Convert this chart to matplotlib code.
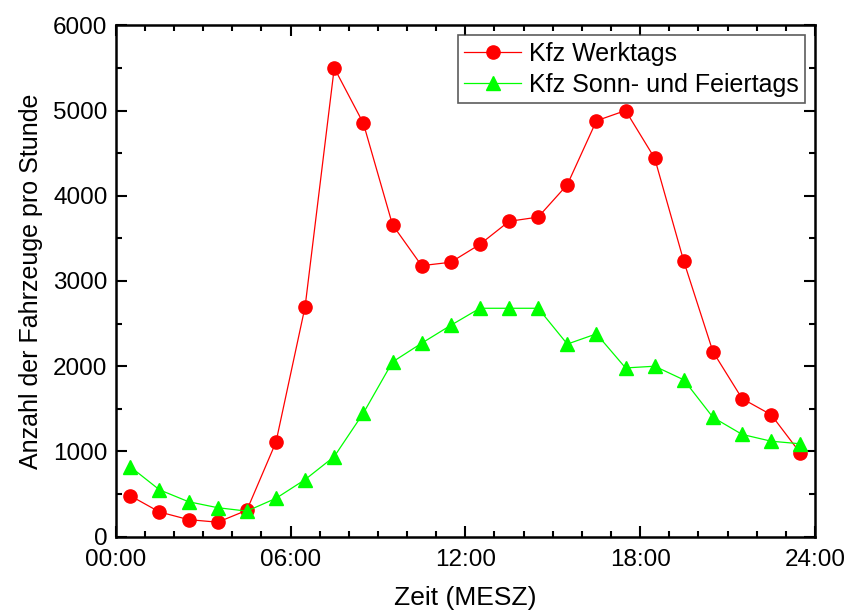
import matplotlib
matplotlib.use("Agg")
import matplotlib.pyplot as plt
from matplotlib.ticker import MultipleLocator, FuncFormatter

plt.rcParams['font.family'] = ['Liberation Sans', 'DejaVu Sans']

hours = [h + 0.5 for h in range(24)]
werktags = [480, 290, 200, 170, 310, 1110, 2700, 5500, 4850, 3660, 3180, 3220,
            3430, 3700, 3750, 4130, 4880, 5000, 4440, 3230, 2170, 1620, 1430, 980]
sonntags = [820, 550, 410, 340, 300, 450, 670, 940, 1450, 2050, 2270, 2480,
            2680, 2680, 2680, 2260, 2380, 1980, 2000, 1840, 1400, 1200, 1120, 1090]

fig = plt.figure(figsize=(8.48, 6.13), dpi=100)
ax = fig.add_axes([0.1365, 0.1245, 0.8245, 0.8342])

ax.plot(hours, werktags, color='#ff0000', lw=0.9, marker='o', ms=9.5,
        markeredgecolor='#ff0000', label='Kfz Werktags')
ax.plot(hours, sonntags, color='#00ff00', lw=0.9, marker='^', ms=10,
        markeredgecolor='#00ff00', label='Kfz Sonn- und Feiertags')

ax.set_xlim(0, 24)
ax.set_ylim(0, 6000)
ax.xaxis.set_major_locator(MultipleLocator(6))
ax.xaxis.set_minor_locator(MultipleLocator(1))
ax.yaxis.set_major_locator(MultipleLocator(1000))
ax.yaxis.set_minor_locator(MultipleLocator(500))
ax.xaxis.set_major_formatter(FuncFormatter(lambda v, p: '%02d:00' % int(v)))

ax.tick_params(which='both', direction='in', top=True, right=True, width=1.5,
               labelsize=17.5)
ax.tick_params(axis='x', pad=9)
ax.tick_params(axis='y', pad=6)
ax.tick_params(which='major', length=8)
ax.tick_params(which='minor', length=4.5)
for s in ax.spines.values():
    s.set_linewidth(1.8)

ax.set_xlabel('Zeit (MESZ)', fontsize=19, labelpad=11)
ax.set_ylabel('Anzahl der Fahrzeuge pro Stunde', fontsize=18, labelpad=7)

leg = ax.legend(loc='upper right', fontsize=18, frameon=True, fancybox=False,
                edgecolor='#333333', handlelength=2.3, borderpad=0.25,
                labelspacing=0.3, handletextpad=0.3, borderaxespad=0.4)
leg.get_frame().set_linewidth(1.2)

fig.savefig('out.png', dpi=100)
